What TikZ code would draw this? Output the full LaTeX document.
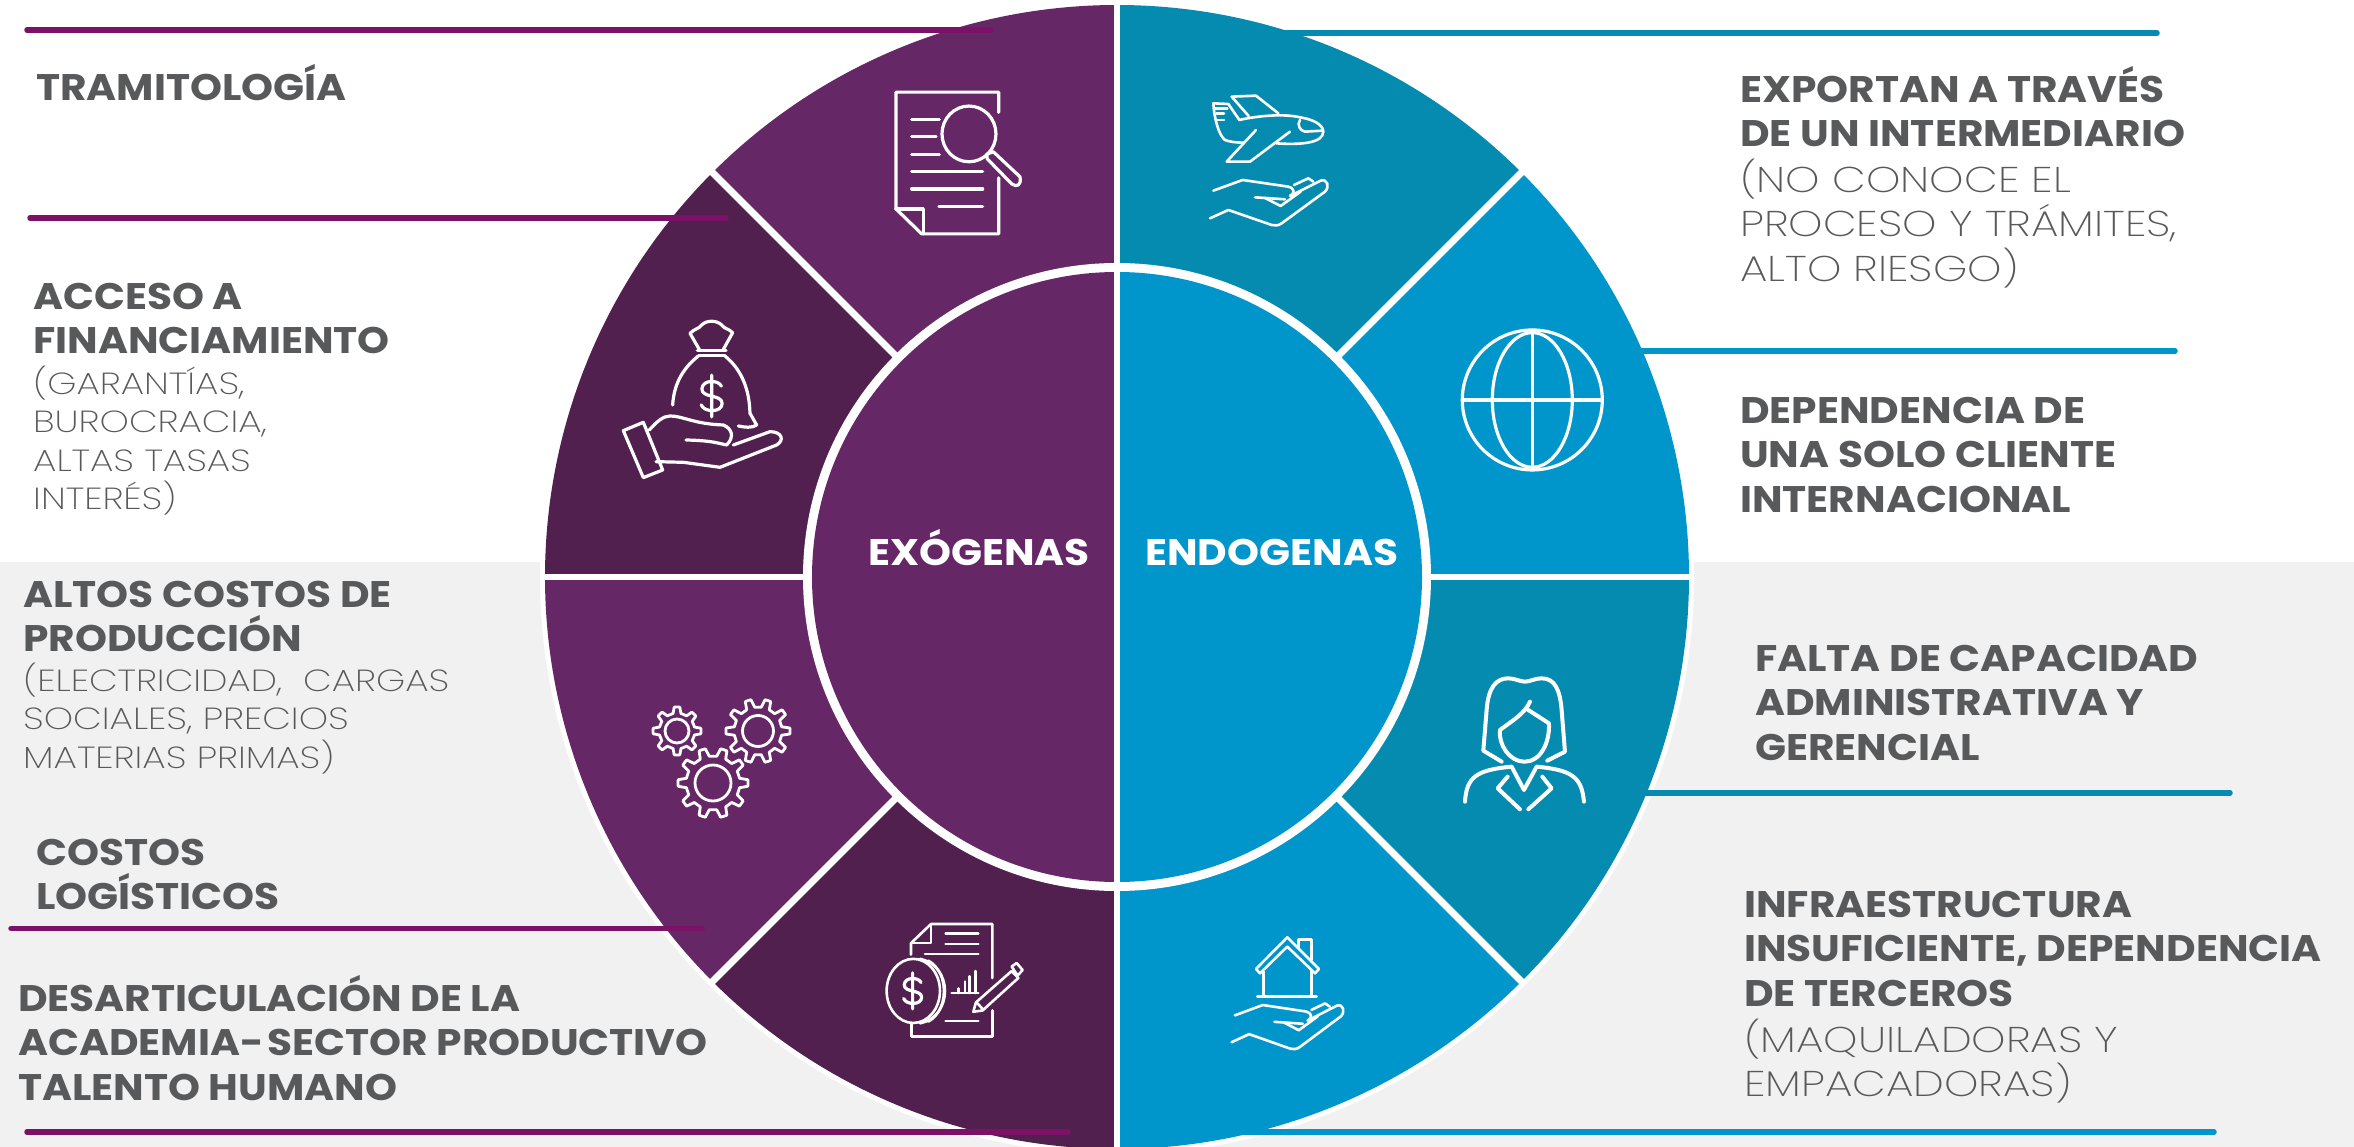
\documentclass[tikz,border=0pt]{standalone}
\usepackage{fontspec}
\usetikzlibrary{calc}
\setmainfont{Poppins}[FakeStretch=1.10]
\newfontfamily\lightfam{Poppins ExtraLight}[FakeStretch=1.22]
\definecolor{purp}{HTML}{662766}
\definecolor{purpd}{HTML}{51204F}
\definecolor{teal1}{HTML}{058BB0}
\definecolor{blue1}{HTML}{0095CB}
\definecolor{graybg}{HTML}{F1F1F1}
\definecolor{linep}{HTML}{7B1268}
\definecolor{txtc}{HTML}{58595B}
\tikzset{
 boldtxt/.style={anchor=north west,inner sep=0pt,align=left,text=txtc,font=\bfseries\fontsize{37}{44.5}\selectfont},
 lighttxt/.style={anchor=north west,inner sep=0pt,align=left,text=txtc,font=\lightfam\fontsize{30.5}{38.5}\selectfont},
 lighttxtb/.style={anchor=north west,inner sep=0pt,align=left,text=txtc,font=\lightfam\fontsize{35.8}{44.5}\selectfont},
 centertxt/.style={anchor=base west,inner sep=0pt,text=white,font=\bfseries\fontsize{37}{40}\selectfont},
 rule1/.style={line width=5.5pt,line cap=round},
 gap/.style={draw=white,line width=7pt},
 ic/.style={draw=white,line width=3.2pt,line cap=round,line join=round},
 ict/.style={draw=white,line width=2.6pt,line cap=round,line join=round},
}
\newcommand\cs{\rule{0pt}{40pt}}
\newcommand\dollar[3]{% cx cy half-height in pt
 \draw[ic,shift={(#1,#2)},x=#3*0.0111pt,y=-#3*0.0111pt]
  (42,-42) .. controls (30,-70) and (-40,-72) .. (-42,-30) .. controls (-42,10) and (45,-8) .. (45,32) .. controls (45,72) and (-32,72) .. (-45,38)
  (0,-90) -- (0,90);}
\newcommand\handicon{%
 \draw[ict] (190,392) -- (278,360) -- (415,380) .. controls (435,385) and (435,400) .. (420,408);
 \draw[ict] (432,375) -- (475,355) -- (490,365);
 \draw[ict] (420,408) -- (512,362) .. controls (532,355) and (540,380) .. (525,395) -- (395,490) .. controls (385,497) and (375,498) .. (365,495) -- (235,450) -- (180,475);
 \draw[ict] (315,412) -- (345,414) -- (392,438) -- (452,395);
 \draw[ict] (345,414) -- (405,418);
}
\newcommand\gear[6]{% cx cy router rinner teeth hole
 \begin{scope}[shift={(#1,#2)}]
 \pgfmathsetmacro\st{360/#5}
 \draw[ic,line width=2.8pt] (0:#3)
  \foreach \k in {1,...,#5}{ -- ({(\k-1)*\st+.15*\st}:#3) -- ({(\k-1)*\st+.28*\st}:#4) -- ({(\k-1)*\st+.72*\st}:#4) -- ({(\k-1)*\st+.85*\st}:#3) -- ({\k*\st}:#3)} -- cycle;
 \draw[ic,line width=2.8pt] (0,0) circle (#6);
 \end{scope}}
\begin{document}
\begin{tikzpicture}[x=1pt,y=-1pt]
\useasboundingbox (0,0) rectangle (2354,1147);
\fill[white] (0,0) rectangle (2354,1147);
\fill[graybg] (0,562) rectangle (2354,1147);
% disc
\coordinate (c) at (1117,577);
\fill[white] (c) circle (577);
\fill[purp]  (c) -- ++(-90:572) arc[start angle=-90,end angle=-135,radius=572] -- cycle;
\fill[purpd] (c) -- ++(-135:572) arc[start angle=-135,end angle=-180,radius=572] -- cycle;
\fill[purp]  (c) -- ++(180:572) arc[start angle=180,end angle=135,radius=572] -- cycle;
\fill[purpd] (c) -- ++(135:572) arc[start angle=135,end angle=90,radius=572] -- cycle;
\fill[teal1] (c) -- ++(-90:572) arc[start angle=-90,end angle=-45,radius=572] -- cycle;
\fill[blue1] (c) -- ++(-45:572) arc[start angle=-45,end angle=0,radius=572] -- cycle;
\fill[teal1] (c) -- ++(0:572) arc[start angle=0,end angle=45,radius=572] -- cycle;
\fill[blue1] (c) -- ++(45:572) arc[start angle=45,end angle=90,radius=572] -- cycle;
\draw[gap] (c) -- ++(-135:575);
\draw[gap] (c) -- ++(135:575);
\draw[gap] (c) -- ++(-45:575);
\draw[gap] (c) -- ++(45:575);
\draw[gap,line width=6pt] ($(c)+(-575,0)$) -- ($(c)+(575,0)$);
\fill[white] (c) circle (314);
\fill[purp] (c) ++(0,-305) arc[start angle=-90,end angle=-270,radius=305] -- cycle;
\fill[blue1] (c) ++(0,-305) arc[start angle=-90,end angle=90,radius=305] -- cycle;
\draw[gap,line width=6.5pt] ($(c)+(0,-575)$) -- ($(c)+(0,575)$);
% document + magnifier
\begin{scope}[shift={(800,0)},x=.3333pt,y=-.3571pt]
 \draw[ic] (596,315) -- (596,258) -- (288,258) -- (288,585) -- (365,655) -- (596,655) -- (596,498);
 \draw[ic] (288,585) -- (370,585) -- (370,655);
 \draw[ic] (335,335) -- (418,335) (335,383) -- (408,383) (335,432) -- (418,432) (335,480) -- (548,480) (335,529) -- (548,529) (417,578) -- (548,578);
 \draw[ic] (507,375) ellipse (81 and 78);
 \draw[ic] (560,432) -- (580,425) -- (660,495) .. controls (665,520) and (650,525) .. (635,515) -- (562,445) -- cycle;
\end{scope}
% money bag + hand
\begin{scope}[shift={(600,290)},x=.3333pt,y=-.3333pt]
 \draw[ic] (300,182) -- (270,130) .. controls (285,115) and (295,118) .. (305,105) .. controls (320,90) and (350,90) .. (365,105) .. controls (375,118) and (385,115) .. (398,128) -- (368,182);
 \draw[ic] (292,182) -- (378,182) (295,197) -- (375,197);
 \draw[ic] (295,198) .. controls (255,230) and (222,275) .. (218,345);
 \draw[ic] (375,198) .. controls (420,235) and (448,290) .. (450,370) -- (470,405) .. controls (455,415) and (435,412) .. (415,408);
 \dollar{335}{318}{21}
 \draw[ic] (70,422) -- (130,397) -- (188,540) -- (130,563) -- cycle;
 \draw[ic] (148,420) .. controls (170,395) and (190,378) .. (210,378) .. controls (250,378) and (280,402) .. (370,405) .. controls (395,415) and (405,440) .. (380,465) .. controls (360,462) and (345,452) .. (258,450);
 \draw[ic] (168,515) -- (250,517) -- (360,532) -- (530,465) .. controls (555,450) and (545,425) .. (510,425) -- (400,465);
\end{scope}
% gears
\gear{677}{731}{24}{18}{8}{12}
\gear{758}{731}{32}{24}{10}{15.5}
\gear{713}{783}{35}{27}{10}{18}
% finance
\begin{scope}[shift={(600,600)},x=.3333pt,y=-.3484pt]
 \draw[ict] (933,1018) -- (933,985) -- (993,930) -- (1177,930) -- (1177,1085);
 \draw[ict] (1177,1178) -- (1177,1253) -- (935,1253) -- (935,1218);
 \draw[ict] (933,985) -- (993,985) -- (993,930);
 \draw[ict] (1037,958) -- (1135,958) (1037,987) -- (1135,987) (975,1016) -- (1135,1016) (1037,1208) -- (1135,1208);
 \draw[ict] (940,1122) ellipse (80 and 92);
 \draw[ict] (960,1030) .. controls (1060,1050) and (1060,1195) .. (960,1215);
 \draw[ict] (985,1035) .. controls (1050,1070) and (1045,1180) .. (985,1210);
 \dollar{938}{1122}{18}
 \draw[ict] (1055,1128) -- (1135,1128) (1075,1128) -- (1075,1115) (1095,1128) -- (1095,1095) (1108,1128) -- (1108,1080) (1127,1128) -- (1127,1065);
 \draw[ict] (1120,1182) -- (1128,1155) -- (1235,1065) -- (1255,1085) -- (1148,1178) -- cycle;
 \draw[ict] (1130,1155) -- (1150,1176);
 \draw[ict] (1235,1052) -- (1250,1042) -- (1268,1062) -- (1253,1078) -- cycle;
\end{scope}
% plane + hand
\begin{scope}[shift={(1150,60)},x=.3333pt,y=-.3333pt]
 \draw[ict] (225,240) .. controls (205,225) and (192,170) .. (190,130) -- (235,132) -- (268,180) .. controls (320,168) and (400,160) .. (450,172) .. controls (490,178) and (520,195) .. (520,215) .. controls (520,250) and (450,255) .. (378,250);
 \draw[ict] (225,240) .. controls (240,246) and (260,248) .. (282,248);
 \draw[ict] (450,180) .. controls (440,195) and (450,212) .. (465,215) -- (518,212);
 \draw[ict] (195,145) -- (232,145) (200,160) -- (222,160) (200,180) -- (222,180);
 \draw[ict] (296,168) -- (245,110) -- (318,107) -- (385,160);
 \draw[ict] (318,210) -- (230,305) -- (300,305) -- (420,215);
 \handicon
\end{scope}
% globe
\begin{scope}[shift={(1150,60)},x=.3333pt,y=-.3333pt]
 \draw[ic] (1147,1020) circle (210);
 \draw[ic] (1147,1020) ellipse (120 and 202);
 \draw[ic] (1147,815) -- (1147,1225) (937,1020) -- (1357,1020);
\end{scope}
% woman
\begin{scope}[shift={(1150,620)},x=.3333pt,y=-.3333pt]
 \draw[ic,line width=4pt] (1055,425) -- (1000,392) -- (1010,270) .. controls (1015,200) and (1040,175) .. (1075,175) .. controls (1095,175) and (1110,185) .. (1125,185) .. controls (1140,185) and (1155,175) .. (1175,175) .. controls (1215,175) and (1230,210) .. (1235,270) -- (1245,395) -- (1192,422);
 \draw[ic,line width=4pt] (1140,245) .. controls (1125,280) and (1090,300) .. (1050,330) .. controls (1045,370) and (1075,425) .. (1125,425) .. controls (1170,425) and (1200,370) .. (1197,310) -- (1135,270);
 \draw[ic,line width=4pt] (945,545) .. controls (950,470) and (980,450) .. (1085,440) -- (1122,510) -- (1160,440) .. controls (1265,450) and (1295,470) .. (1302,545);
 \draw[ic,line width=4pt] (1073,470) -- (1043,505) -- (1110,568) (1177,470) -- (1205,505) -- (1135,568);
\end{scope}
% house + hand
\begin{scope}[shift={(1150,620)},x=.3333pt,y=-.3333pt]
 \draw[ict] (318,1047) -- (412,952) -- (507,1047) -- (495,1060) -- (412,980) -- (330,1060) -- cycle;
 \draw[ict] (445,985) -- (445,958) -- (485,958) -- (485,1020);
 \draw[ict] (340,1055) -- (340,1130) (485,1055) -- (485,1130) (322,1130) -- (500,1130);
 \begin{scope}[shift={(74,806)},xscale=.95,yscale=.97]
 \handicon
 \end{scope}
\end{scope}
% rules
\draw[rule1,draw=linep] (27,30) -- (991,30);
\draw[rule1,draw=linep] (30,218) -- (726,218);
\draw[rule1,draw=linep] (11,928.5) -- (702,928.5);
\draw[rule1,draw=linep] (27,1132) -- (1068,1132);
\draw[rule1,draw=teal1] (1280,33) -- (2157,33);
\draw[rule1,draw=blue1] (1642,351) -- (2175,351);
\draw[rule1,draw=teal1] (1645,793) -- (2230,793);
\draw[rule1,draw=blue1] (1145,1132) -- (2214,1132);
% labels
\node[centertxt] (ex) at (868,565) {EXÓGENAS};
\node[centertxt] (en) at (1145,565) {ENDOGENAS};
\node[boldtxt] (t1) at (36,60) {\cs TRAMITOLOGÍA};
\node[boldtxt] (t2) at (33,269) {\cs ACCESO A\\FINANCIAMIENTO};
\node[lighttxt] (t2b) at (33,354) {\cs (GARANTÍAS,\\BUROCRACIA,\\ALTAS TASAS\\INTERÉS)};
\node[boldtxt] (t3) at (23,567) {\cs ALTOS COSTOS DE\\PRODUCCIÓN};
\node[lighttxt] (t3b) at (23,651) {\cs (ELECTRICIDAD,~ CARGAS\\SOCIALES, PRECIOS\\MATERIAS PRIMAS)};
\node[boldtxt] (t4) at (36,825) {\cs COSTOS\\LOGÍSTICOS};
\node[boldtxt] (t5) at (18,971) {\cs DESARTICULACIÓN DE LA\\ACADEMIA-\kern-5pt{} SECTOR PRODUCTIVO\\TALENTO HUMANO};
\node[boldtxt] (r1) at (1740,62) {\cs EXPORTAN A TRAVÉS\\DE UN INTERMEDIARIO};
\node[lighttxtb] (r1b) at (1740,152) {\cs (NO CONOCE EL\\PROCESO Y TRÁMITES,\\ALTO RIESGO)};
\node[boldtxt] (r2) at (1740,383) {\cs DEPENDENCIA DE\\UNA SOLO CLIENTE\\INTERNACIONAL};
\node[boldtxt] (r3) at (1755,631) {\cs FALTA DE CAPACIDAD\\ADMINISTRATIVA Y\\GERENCIAL};
\node[boldtxt] (r4) at (1744,877) {\cs INFRAESTRUCTURA\\INSUFICIENTE, DEPENDENCIA\\DE TERCEROS};
\node[lighttxtb] (r4b) at (1744,1012) {\cs (MAQUILADORAS Y\\EMPACADORAS)};
\end{tikzpicture}
\end{document}
